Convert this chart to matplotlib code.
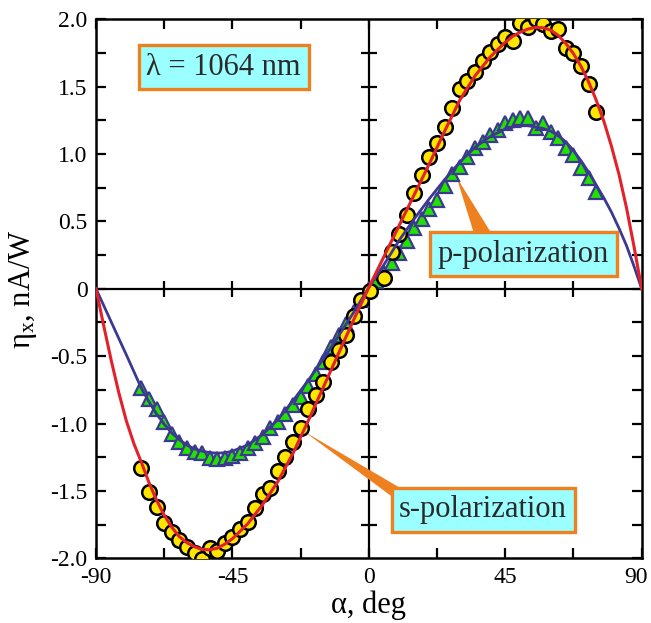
import matplotlib
matplotlib.use("Agg")
import matplotlib.pyplot as plt
from matplotlib.patches import Polygon
from matplotlib.ticker import FixedLocator, FixedFormatter
from matplotlib.transforms import ScaledTranslation

plt.rcParams['font.family'] = ['Liberation Serif', 'DejaVu Serif']
plt.rcParams['mathtext.default'] = 'regular'

# ---------------- data ----------------
alpha_circ = [-75, -72.5, -70, -67.5, -65, -62.5, -60, -57.5, -55, -52.5, -50, -47.5, -45, -42.5,
              -40, -37.5, -35, -32.5, -30, -27.5, -25, -22.5, -20, -17.5, -15, -12.5, -10, -7.5,
              -5, -2.5, 0.5, 5, 7.5, 10, 12.5, 15, 17.5, 20, 22.5, 25, 27.5, 30, 32.5, 35, 37.5,
              40, 42.5, 45, 47.5, 50, 52.5, 55, 57.5, 60, 62.5, 65, 67.5, 70, 72.5, 75]
eta_circ = [-1.332, -1.506, -1.622, -1.74, -1.802, -1.864, -1.914, -1.958, -2.008, -1.926, -1.944,
            -1.884, -1.84, -1.785, -1.728, -1.629, -1.523, -1.481, -1.35, -1.246, -1.135, -1.03,
            -0.89, -0.79, -0.692, -0.543, -0.456, -0.345, -0.2, -0.085, -0.02, 0.08, 0.275, 0.41,
            0.55, 0.71, 0.845, 0.98, 1.08, 1.2, 1.34, 1.48, 1.54, 1.61, 1.69, 1.755, 1.82, 1.87,
            1.84, 1.97, 1.945, 2.0, 1.965, 1.91, 1.925, 1.785, 1.75, 1.65, 1.52, 1.31]

alpha_tri = [-75, -72.5, -70, -67.5, -65, -62.5, -60, -57.5, -55, -52.5, -50, -47.5, -45, -42.5,
             -40, -37.5, -35, -32.5, -30, -27.5, -25, -22.5, -20, -17.5, -15, -12.5, -10, -7.5,
             -5, -2.5, 0, 2.5, 5, 7.5, 10, 12.5, 15, 17.5, 20, 22.5, 25, 27.5, 30, 32.5, 35, 37.5,
             40, 42.5, 45, 47.5, 50, 52.5, 55, 57.5, 60, 62.5, 65, 67.5, 70, 72.5, 75]
eta_tri = [-0.736, -0.815, -0.89, -0.99, -1.075, -1.14, -1.18, -1.209, -1.221, -1.258, -1.265,
           -1.258, -1.241, -1.221, -1.184, -1.147, -1.097, -1.03, -0.99, -0.927, -0.865, -0.803,
           -0.72, -0.63, -0.54, -0.43, -0.345, -0.26, -0.17, -0.08, 0.0, 0.06, 0.115, 0.195,
           0.265, 0.355, 0.449, 0.517, 0.59, 0.66, 0.76, 0.85, 0.906, 0.98, 1.043, 1.092, 1.14,
           1.178, 1.228, 1.253, 1.265, 1.265, 1.191, 1.228, 1.166, 1.117, 1.043, 0.993, 0.894,
           0.82, 0.721]

alpha_fit = [-90, -87.5, -85, -82.5, -80, -77.5, -75, -72.5, -70, -67.5, -65, -62.5, -60, -57.5,
             -55, -52.5, -50, -47.5, -45, -40, -35, -30, -25, -20, -15, -10, -5, 0, 5, 10, 15,
             20, 25, 30, 35, 40, 45, 47.5, 50, 52.5, 55, 57.5, 60, 62.5, 65, 67.5, 70, 72.5, 75,
             77.5, 80, 82.5, 85, 87.5, 90]
eta_fit_red = [0, -0.27, -0.53, -0.77, -0.98, -1.15, -1.29, -1.44, -1.57, -1.68, -1.77, -1.84,
               -1.885, -1.915, -1.935, -1.937, -1.925, -1.895, -1.855, -1.745, -1.60, -1.43,
               -1.22, -0.98, -0.73, -0.48, -0.23, 0.01, 0.24, 0.47, 0.70, 0.93, 1.17, 1.40, 1.58,
               1.72, 1.83, 1.875, 1.905, 1.928, 1.94, 1.937, 1.92, 1.88, 1.82, 1.745, 1.65, 1.535,
               1.40, 1.245, 1.06, 0.85, 0.60, 0.31, 0]
eta_fit_blue = [0, -0.122, -0.245, -0.368, -0.49, -0.615, -0.74, -0.84, -0.93, -1.005, -1.07,
                -1.12, -1.16, -1.188, -1.205, -1.216, -1.22, -1.217, -1.205, -1.16, -1.08, -0.97,
                -0.83, -0.68, -0.52, -0.35, -0.175, 0.01, 0.18, 0.36, 0.52, 0.67, 0.81, 0.94,
                1.05, 1.13, 1.185, 1.2, 1.21, 1.21, 1.2, 1.19, 1.17, 1.135, 1.09, 1.025, 0.95,
                0.865, 0.77, 0.675, 0.57, 0.45, 0.32, 0.165, 0]

xtick_major = [-90, -67.5, -45, -22.5, 0, 22.5, 45, 67.5, 90]
xtick_labels = ['-90', '', '-45', '', '0', '', '45', '', '90']
ytick_major = [-2.0, -1.75, -1.5, -1.25, -1.0, -0.75, -0.5, -0.25, 0, 0.25, 0.5, 0.75, 1.0,
               1.25, 1.5, 1.75, 2.0]
ytick_labels = ['-2.0', '', '-1.5', '', '-1.0', '', '-0.5', '', '0', '', '0.5', '', '1.0', '',
                '1.5', '', '2.0']

# ---------------- colours ----------------
RED = '#E3212B'
NAVY = '#3B3990'
YELLOW = '#FFE500'
GREEN = '#22E000'
ORANGE = '#EF8020'
CYAN = '#9CFFFF'
TXT = '#2A2A2A'

fig = plt.figure(figsize=(6.51, 6.23), dpi=100)
ax = fig.add_axes([0.1475, 0.1039, 0.8382, 0.8651])
ax.set_xlim(-90, 90)
ax.set_ylim(-2.0, 2.0)

# zero cross lines with crossing ticks
ax.axhline(0, color='black', lw=1.6, zorder=1)
ax.axvline(0, color='black', lw=1.6, zorder=1)
inner_x = [x for x in xtick_major if x not in (-90, 0, 90)]
inner_y = [y for y in ytick_major if y not in (-2.0, 0, 2.0)]
ax.plot(inner_x, [0] * len(inner_x), ls='none', marker='|', ms=11, mew=1.6, color='black',
        zorder=1)
ax.plot([0] * len(inner_y), inner_y, ls='none', marker='_', ms=11, mew=1.6, color='black',
        zorder=1)

# callout wedges
wedge_p = Polygon([[28.9, 0.83], [36.2, 0.30], [43.5, 0.30]], closed=True,
                  facecolor=ORANGE, edgecolor='none', zorder=2)
wedge_s = Polygon([[-21.3, -1.06], [12.3, -1.62], [17.3, -1.57]], closed=True,
                  facecolor=ORANGE, edgecolor='none', zorder=2)
ax.add_patch(wedge_p)
ax.add_patch(wedge_s)

# fit curves
ax.plot(alpha_fit, eta_fit_blue, color=NAVY, lw=2.0, zorder=4)
ax.plot(alpha_fit, eta_fit_red, color=RED, lw=2.2, zorder=5)

# data markers
ax.plot(alpha_tri, eta_tri, ls='none', marker='^', ms=10.5, mfc=GREEN, mec=NAVY, mew=1.6,
        zorder=3)
ax.plot(alpha_circ, eta_circ, ls='none', marker='o', ms=10.5, mfc=YELLOW, mec='black', mew=1.8,
        zorder=3)

# boxes
bbox = dict(boxstyle='square,pad=0.25', facecolor=CYAN, edgecolor=ORANGE, linewidth=2.4)
for (bx, by, btxt) in [(-47.9, 1.646, 'λ = 1064 nm'), (51.0, 0.257, 'p-polarization'),
                       (37.7, -1.641, 's-polarization')]:
    ax.text(bx, by, btxt, fontsize=22, color=TXT, ha='center', va='center',
            family=['Liberation Serif', 'DejaVu Serif'], bbox=bbox, zorder=6)

# ticks
ax.xaxis.set_major_locator(FixedLocator(xtick_major))
ax.xaxis.set_major_formatter(FixedFormatter(xtick_labels))
ax.yaxis.set_major_locator(FixedLocator(ytick_major))
ax.yaxis.set_major_formatter(FixedFormatter(ytick_labels))
ax.tick_params(direction='in', length=7, width=1.6, top=True, right=True, labelsize=17,
               pad=6, labelfontfamily='Liberation Serif')
for sp in ax.spines.values():
    sp.set_linewidth(1.8)

# nudge the last x tick label so it stays inside the figure
fig.canvas.draw()
last = ax.get_xticklabels()[-1]
last.set_transform(last.get_transform() + ScaledTranslation(-4 / 72, 0, fig.dpi_scale_trans))

ax.set_xlabel('α, deg', fontsize=22, labelpad=2)
ax.set_ylabel('η$_x$, nA/W', fontsize=22, labelpad=8)

fig.savefig('out.png', dpi=100)
